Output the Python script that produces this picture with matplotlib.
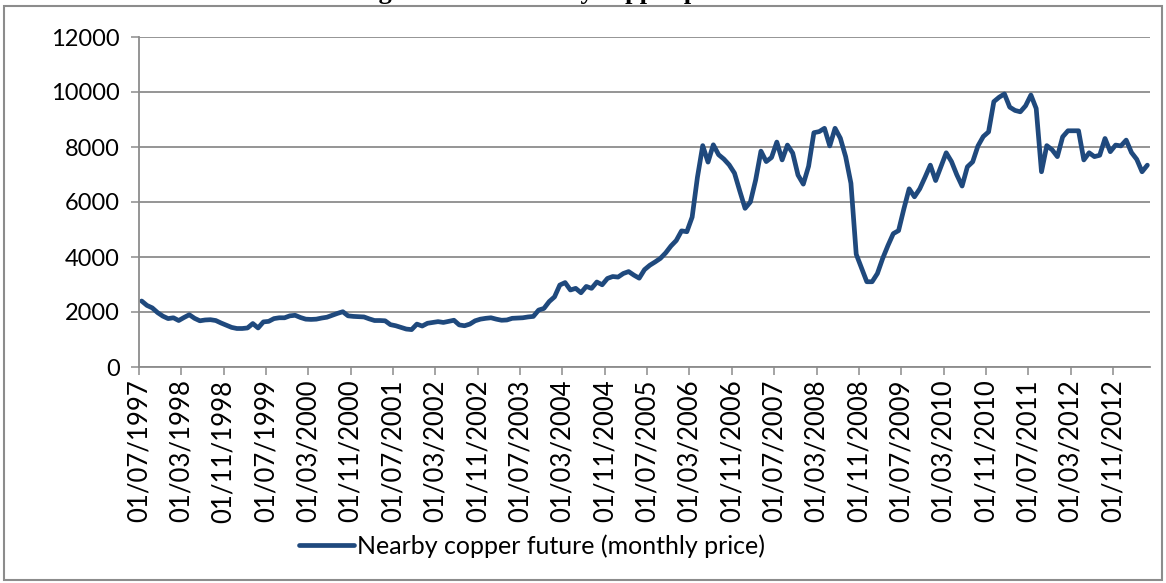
import matplotlib
matplotlib.use("Agg")
import matplotlib.pyplot as plt
from matplotlib.patches import Rectangle
import numpy as np

# nearby copper future, monthly, 01/07/1997 .. 01/05/2013 (USD/t)
p1997 = [2400, 2240, 2150, 1980, 1850, 1760]
p1998 = [1790, 1690, 1800, 1900, 1770, 1680, 1710, 1720, 1690, 1600, 1520, 1440]
p1999 = [1400, 1400, 1420, 1580, 1420, 1640, 1660, 1760, 1790, 1790, 1860, 1880]
p2000 = [1800, 1740, 1730, 1740, 1780, 1810, 1880, 1950, 2010, 1860, 1840, 1830]
p2001 = [1820, 1750, 1690, 1690, 1680, 1540, 1500, 1440, 1380, 1360, 1560, 1490]
p2002 = [1590, 1620, 1650, 1620, 1660, 1700, 1530, 1500, 1560, 1680, 1740, 1770]
p2003 = [1790, 1740, 1700, 1710, 1770, 1780, 1790, 1820, 1840, 2070, 2130, 2380]
p2004 = [2550, 2980, 3070, 2800, 2860, 2700, 2930, 2860, 3090, 2990, 3220, 3290]
p2005 = [3270, 3400, 3470, 3340, 3230, 3540, 3700, 3820, 3950, 4150, 4400, 4600]
p2006 = [4950, 4920, 5450, 6900, 8050, 7450, 8080, 7720, 7560, 7350, 7050, 6400]
p2007 = [5770, 6000, 6800, 7850, 7470, 7620, 8180, 7530, 8070, 7780, 6980, 6650]
p2008 = [7300, 8520, 8560, 8680, 8040, 8680, 8320, 7650, 6680, 4100, 3600, 3100]
p2009 = [3100, 3400, 3950, 4420, 4850, 4960, 5750, 6480, 6190, 6480, 6900, 7340]
p2010 = [6780, 7280, 7790, 7470, 6990, 6580, 7280, 7460, 8040, 8380, 8550, 9650]
p2011 = [9810, 9930, 9450, 9330, 9280, 9500, 9890, 9400, 7100, 8050, 7900, 7650]
p2012 = [8370, 8590, 8590, 8590, 7530, 7790, 7650, 7700, 8310, 7830, 8070, 8040]
p2013 = [8250, 7800, 7550, 7100, 7340]

prices = (p1997 + p1998 + p1999 + p2000 + p2001 + p2002 + p2003 + p2004 + p2005
          + p2006 + p2007 + p2008 + p2009 + p2010 + p2011 + p2012 + p2013)

tick_labels = ["01/07/1997", "01/03/1998", "01/11/1998", "01/07/1999",
               "01/03/2000", "01/11/2000", "01/07/2001", "01/03/2002",
               "01/11/2002", "01/07/2003", "01/03/2004", "01/11/2004",
               "01/07/2005", "01/03/2006", "01/11/2006", "01/07/2007",
               "01/03/2008", "01/11/2008", "01/07/2009", "01/03/2010",
               "01/11/2010", "01/07/2011", "01/03/2012", "01/11/2012"]
yticks = [0, 2000, 4000, 6000, 8000, 10000, 12000]

font = "Lato"
grey = "#8c8c8c"
blue = "#1f497d"

fig = plt.figure(figsize=(11.66, 5.83), dpi=100)
ax = fig.add_axes([139/1166, 1 - 367/583, (1150 - 139)/1166, (367 - 37)/583])

x = np.arange(len(prices)) + 0.5
ax.plot(x, prices, color=blue, lw=3.4, solid_joinstyle="round",
        solid_capstyle="round", label="Nearby copper future (monthly price)")

ax.set_xlim(0, len(prices))
ax.set_ylim(0, 12000)
ax.set_yticks(yticks)
ax.set_yticklabels([str(v) for v in yticks], fontsize=17, family=font)
ax.set_xticks(np.arange(len(tick_labels)) * 8)
ax.set_xticklabels(tick_labels, rotation=90, fontsize=18.5, family=font)
ax.yaxis.grid(True, color=grey, lw=1.3)
ax.set_axisbelow(True)
for s in ["top", "right"]:
    ax.spines[s].set_visible(False)
for s in ["left", "bottom"]:
    ax.spines[s].set_color(grey)
    ax.spines[s].set_linewidth(1.3)
ax.tick_params(axis="x", length=6, width=1.1, color=grey, pad=3, labelcolor="black")
ax.tick_params(axis="y", length=6, width=1.1, color=grey, pad=8, labelcolor="black")

leg = fig.legend(loc="center", bbox_to_anchor=(532/1166, 1 - 546/583), frameon=False,
                 prop={"family": font, "size": 18}, handlelength=2.2, handletextpad=0.1)

# chart frame
fig.patches.append(Rectangle((4/1166, 3/583), 1158/1166, 574/583, transform=fig.transFigure,
                             fill=False, edgecolor=grey, lw=1.5))

# caption above the chart, cut by the page edge
fig.text(355/1166, 1 + 1/583, "Figure 1: The nearby copper price", family="Liberation Serif",
         fontweight="bold", fontsize=19, ha="left", va="baseline")

fig.savefig("out.png", dpi=100)
